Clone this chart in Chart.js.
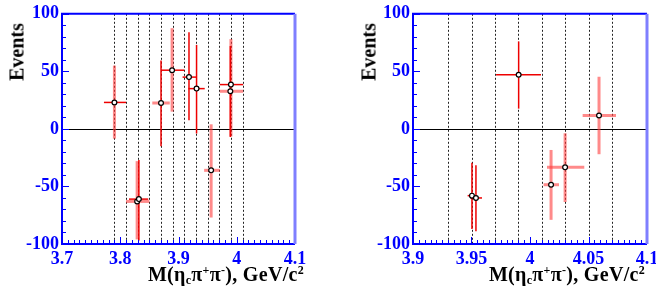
<!DOCTYPE html>
<html lang="en">
<head>
<meta charset="UTF-8">
<title>Events vs M(etac pi pi)</title>
<script src="https://cdn.jsdelivr.net/npm/chart.js@4"></script>
<style>
  * { margin: 0; padding: 0; box-sizing: border-box; }
  body { width: 656px; height: 289px; overflow: hidden; position: relative; background: #fff; font-family: 'Liberation Serif', 'DejaVu Serif', serif; }
  canvas { position: absolute; top: 0; }
  .ytitle { position: absolute; font-weight: bold; font-size: 20px; white-space: nowrap; transform: translate(-50%, -50%) rotate(-90deg); }
  .xtitle { position: absolute; font-weight: bold; font-size: 20px; line-height: 20px; letter-spacing: 0.3px; white-space: nowrap; top: 264px; }
  .xtitle sub { font-size: 12px; line-height: 0; vertical-align: -3px; }
  .xtitle sup { font-size: 12px; line-height: 0; vertical-align: 7px; }
</style>
</head>
<body>
<canvas id="leftChart" width="330" height="289" style="left:0"></canvas>
<canvas id="rightChart" width="340" height="289" style="left:330px"></canvas>
<div class="ytitle" style="left:17px; top:52px">Events</div>
<div class="ytitle" style="left:369px; top:52px">Events</div>
<div class="xtitle" style="right:352px">M(&eta;<sub>c</sub>&pi;<sup>+</sup>&pi;<sup>-</sup>), GeV/c<sup>2</sup></div>
<div class="xtitle" style="right:11px">M(&eta;<sub>c</sub>&pi;<sup>+</sup>&pi;<sup>-</sup>), GeV/c<sup>2</sup></div>

<script>
// ---- left panel data ----
const leftX    = [3.790, 3.829, 3.832, 3.870, 3.889, 3.918, 3.931, 3.956, 3.990, 3.989];
const leftY    = [23, -63, -61, 22.5, 51, 45, 35, -36, 38.5, 32.7];
const leftXLo  = [3.772, 3.810, 3.815, 3.855, 3.870, 3.907, 3.917, 3.944, 3.971, 3.971];
const leftXHi  = [3.810, 3.850, 3.848, 3.885, 3.910, 3.931, 3.945, 3.971, 4.011, 4.011];
const leftYLo  = [-8.5, -96, -97, -15, 15, 7.5, -4, -77, -6.6, -7];
const leftYHi  = [55, -28, -27, 59.5, 87.5, 84, 73, 4, 78, 72];
const leftEdges = [3.79, 3.81, 3.83, 3.85, 3.87, 3.89, 3.91, 3.93, 3.95, 3.97, 3.99, 4.01];
const leftXTicks = [3.7, 3.8, 3.9, 4.0, 4.1];

// ---- right panel data ----
const rightX   = [3.9504, 3.9538, 3.9903, 4.018, 4.030, 4.059];
const rightY   = [-58, -60, 47, -48.5, -33.4, 11.6];
const rightXLo = [3.9467, 3.949, 3.971, 4.0116, 4.0145, 4.045];
const rightXHi = [3.9518, 3.959, 4.0094, 4.0248, 4.0464, 4.0735];
const rightYLo = [-87, -89, 17.6, -79, -63.5, -22];
const rightYHi = [-29.4, -31.6, 76, -18.3, -3.8, 45.3];
const rightEdges = [3.93, 3.95, 3.97, 3.99, 4.01, 4.03, 4.05, 4.07];
const rightXTicks = [3.9, 3.95, 4.0, 4.05, 4.1];

const yTicks = [-100, -50, 0, 50, 100];

// bar shading: 'd' = solid red thin, 'l' = pale red wide
const leftHShade  = ['d', 'l', 'd', 'l', 'd', 'd', 'd', 'l', 'd', 'l'];
const leftVShade  = ['l', 'l', 'd', 'd', 'l', 'd', 'd', 'l', 'l', 'd'];
const rightHShade = ['d', 'd', 'd', 'l', 'l', 'l'];
const rightVShade = ['d', 'd', 'd', 'l', 'l', 'l'];

const BLUE = '#0000ff';
const FONT = { family: "'Liberation Serif', serif", size: 18, weight: 'bold' };

function fmt(v) { return String(Number(v.toFixed(3))); }

function histPlugin(p) {
  return {
    id: 'hist',
    beforeDatasetsDraw(chart) {
      const { ctx, chartArea: a, scales: { x, y } } = chart;
      ctx.save();
      // bin boundaries
      ctx.strokeStyle = '#222';
      ctx.lineWidth = 1;
      ctx.setLineDash([2, 2]);
      for (const e of p.edges) {
        const px = Math.round(x.getPixelForValue(e)) + 0.5;
        ctx.beginPath(); ctx.moveTo(px, a.top); ctx.lineTo(px, a.bottom); ctx.stroke();
      }
      ctx.setLineDash([]);
      // zero line
      const y0 = Math.round(y.getPixelForValue(0)) + 0.5;
      ctx.strokeStyle = '#000';
      ctx.beginPath(); ctx.moveTo(a.left, y0); ctx.lineTo(a.right, y0); ctx.stroke();
      // error bars
      const style = s => s === 'l' ? ['rgba(255,60,60,0.6)', 3] : ['#ee0000', 1.5];
      p.x.forEach((xv, i) => {
        const px = x.getPixelForValue(xv), py = y.getPixelForValue(p.y[i]);
        let [c, w] = style(p.hs[i]);
        ctx.strokeStyle = c; ctx.lineWidth = w;
        ctx.beginPath(); ctx.moveTo(x.getPixelForValue(p.xlo[i]), py); ctx.lineTo(x.getPixelForValue(p.xhi[i]), py); ctx.stroke();
        [c, w] = style(p.vs[i]);
        ctx.strokeStyle = c; ctx.lineWidth = w;
        ctx.beginPath(); ctx.moveTo(px, y.getPixelForValue(p.ylo[i])); ctx.lineTo(px, y.getPixelForValue(p.yhi[i])); ctx.stroke();
      });
      ctx.restore();
    },
    afterDraw(chart) {
      const { ctx, chartArea: a, scales: { x, y } } = chart;
      ctx.save();
      ctx.strokeStyle = BLUE;
      ctx.lineWidth = 1;
      // y ticks (inside, left axis)
      for (let v = -100; v <= 100; v += 10) {
        const py = Math.round(y.getPixelForValue(v)) + 0.5;
        const len = v % 50 === 0 ? 7 : 4;
        ctx.beginPath(); ctx.moveTo(a.left, py); ctx.lineTo(a.left + len, py); ctx.stroke();
      }
      // x ticks (inside, bottom axis)
      const n = Math.round((p.max - p.min) / p.minor);
      for (let k = 0; k <= n; k++) {
        const v = p.min + k * p.minor;
        const px = Math.round(x.getPixelForValue(v)) + 0.5;
        const major = p.ticks.some(t => Math.abs(t - v) < 1e-6);
        ctx.beginPath(); ctx.moveTo(px, a.bottom); ctx.lineTo(px, a.bottom - (major ? 7 : 4)); ctx.stroke();
      }
      // frame
      ctx.lineWidth = 2;
      ctx.beginPath();
      ctx.moveTo(a.right, a.top); ctx.lineTo(a.left, a.top); ctx.lineTo(a.left, a.bottom); ctx.lineTo(a.right, a.bottom);
      ctx.stroke();
      ctx.strokeStyle = '#7f7fff';
      ctx.lineWidth = 3;
      ctx.beginPath(); ctx.moveTo(a.right, a.top); ctx.lineTo(a.right, a.bottom); ctx.stroke();
      ctx.restore();
    }
  };
}

function makeChart(id, p, yWidth, padRight) {
  return new Chart(document.getElementById(id), {
    type: 'scatter',
    data: {
      datasets: [{
        data: p.x.map((v, i) => ({ x: v, y: p.y[i] })),
        pointRadius: 2.4,
        pointBorderWidth: 1.2,
        pointBackgroundColor: '#fff',
        pointBorderColor: '#000',
      }]
    },
    options: {
      responsive: false,
      animation: false,
      layout: { padding: { top: 10, right: padRight, left: 0, bottom: 0 } },
      plugins: { legend: { display: false }, tooltip: { enabled: false } },
      scales: {
        x: {
          type: 'linear', min: p.min, max: p.max,
          afterBuildTicks: s => { s.ticks = p.ticks.map(v => ({ value: v })); },
          afterFit: s => { s.height = 45; },
          grid: { display: false, drawTicks: false },
          border: { display: false },
          ticks: { color: BLUE, font: FONT, padding: 5, maxRotation: 0, autoSkip: false, callback: v => fmt(v) }
        },
        y: {
          type: 'linear', min: -100, max: 100,
          afterBuildTicks: s => { s.ticks = yTicks.map(v => ({ value: v })); },
          afterFit: s => { s.width = yWidth; },
          grid: { display: false, drawTicks: false },
          border: { display: false },
          ticks: { color: BLUE, font: FONT, padding: 3, callback: v => fmt(v) }
        }
      }
    },
    plugins: [histPlugin(p)]
  });
}

makeChart('leftChart', {
  x: leftX, y: leftY, xlo: leftXLo, xhi: leftXHi, ylo: leftYLo, yhi: leftYHi,
  hs: leftHShade, vs: leftVShade, edges: leftEdges, ticks: leftXTicks,
  min: 3.7, max: 4.1, minor: 0.01
}, 62, 35);

makeChart('rightChart', {
  x: rightX, y: rightY, xlo: rightXLo, xhi: rightXHi, ylo: rightYLo, yhi: rightYHi,
  hs: rightHShade, vs: rightVShade, edges: rightEdges, ticks: rightXTicks,
  min: 3.9, max: 4.1, minor: 0.005
}, 83, 23);
</script>
</body>
</html>
